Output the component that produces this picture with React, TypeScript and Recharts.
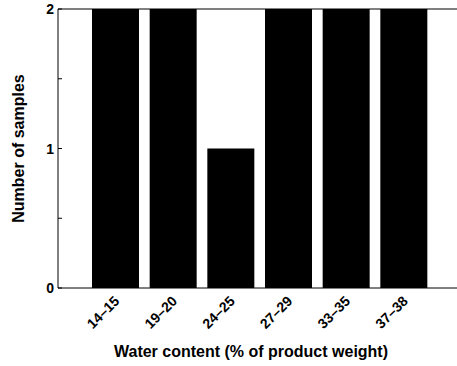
import { BarChart, Bar, XAxis, YAxis, ReferenceLine } from "recharts";

const ranges = ["14–15", "19–20", "24–25", "27–29", "33–35", "37–38"];
const samples = [2, 2, 1, 2, 2, 2];
const yTicks = [0, 0.5, 1, 1.5, 2];

const data = ranges.map((range, i) => ({ range, samples: samples[i] }));

const FONT = "'Liberation Sans', Arial, Helvetica, sans-serif";

function YTick(props: any) {
  const { x, y, payload } = props;
  const axisX = x + 4;
  const v = payload.value;
  return (
    <g>
      <line x1={axisX} x2={axisX + 4} y1={y} y2={y} stroke="#000" strokeWidth={1} />
      {Number.isInteger(v) && (
        <text
          x={x}
          y={y}
          dy={5}
          textAnchor="end"
          fontFamily={FONT}
          fontWeight="bold"
          fontSize={14}
          fill="#000"
        >
          {v}
        </text>
      )}
    </g>
  );
}

function XTick(props: any) {
  const { x, y, payload } = props;
  const tx = x + 4.5;
  const ty = y + 14;
  return (
    <text
      x={tx}
      y={ty}
      transform={`rotate(-45, ${tx}, ${ty})`}
      textAnchor="end"
      fontFamily={FONT}
      fontWeight="bold"
      fontSize={14}
      fill="#000"
    >
      {payload.value}
    </text>
  );
}

function XTitle(props: any) {
  const { viewBox } = props;
  return (
    <text
      x={viewBox.x + viewBox.width / 2 - 9}
      y={357}
      textAnchor="middle"
      fontFamily={FONT}
      fontWeight="bold"
      fontSize={16}
      fill="#000"
    >
      Water content (% of product weight)
    </text>
  );
}

function YTitle(props: any) {
  const { viewBox } = props;
  const cx = 24;
  const cy = viewBox.y + viewBox.height / 2;
  return (
    <text
      x={cx}
      y={cy}
      transform={`rotate(-90, ${cx}, ${cy})`}
      textAnchor="middle"
      fontFamily={FONT}
      fontWeight="bold"
      fontSize={16}
      fill="#000"
    >
      Number of samples
    </text>
  );
}

export default function App() {
  return (
    <div
      style={{
        position: "absolute",
        left: 0,
        top: 0,
        width: 457,
        height: 366,
        overflow: "hidden",
        background: "#fff",
      }}
    >
      <BarChart
        width={470}
        height={366}
        data={data}
        margin={{ top: 9, right: 8, bottom: 0, left: 0 }}
        barSize={47}
      >
        <XAxis
          dataKey="range"
          height={78}
          padding={{ left: 29, right: 29 }}
          axisLine={{ stroke: "#000", strokeWidth: 1 }}
          tickLine={false}
          tickSize={0}
          tickMargin={0}
          interval={0}
          tick={<XTick />}
          label={<XTitle />}
        />
        <YAxis
          width={58}
          domain={[0, 2]}
          ticks={yTicks}
          axisLine={{ stroke: "#000", strokeWidth: 1 }}
          tickLine={false}
          tickSize={0}
          tickMargin={4}
          interval={0}
          tick={<YTick />}
          label={<YTitle />}
        />
        <Bar dataKey="samples" fill="#000" isAnimationActive={false} />
        <ReferenceLine y={2} stroke="#000" strokeWidth={1} />
      </BarChart>
    </div>
  );
}
